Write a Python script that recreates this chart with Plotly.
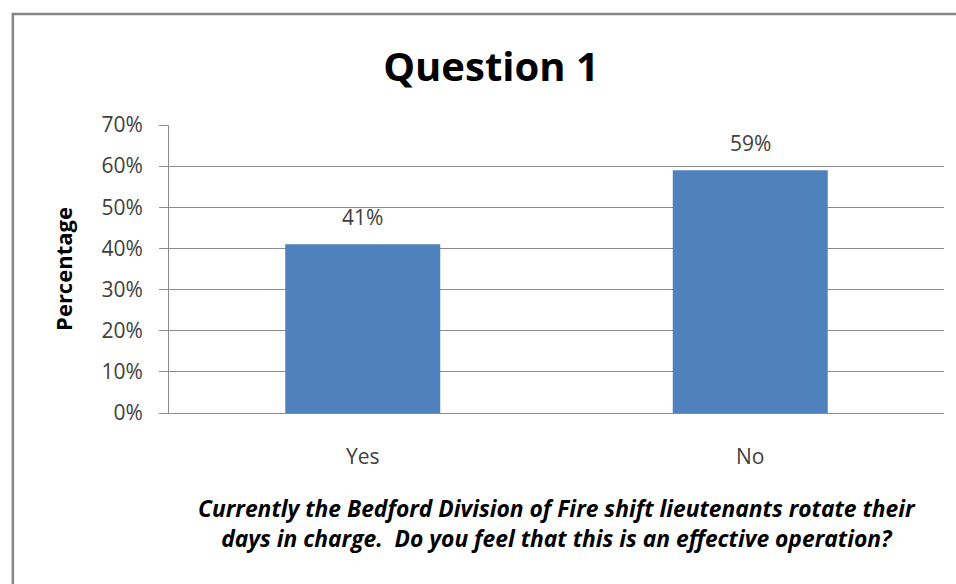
import plotly.graph_objects as go

# Survey results
answers = ["Yes", "No"]
shares = [41, 59]  # percent of respondents
share_labels = ["41%", "59%"]
y_ticks = [0, 10, 20, 30, 40, 50, 60, 70]
y_tick_text = ["0%", "10%", "20%", "30%", "40%", "50%", "60%", "70%"]

chart_title = "Question 1"
y_title = "Percentage"
question_text = ("Currently the Bedford Division of Fire shift lieutenants rotate their<br>"
                 "days in charge.  Do you feel that this is an effective operation?")

FONT = "Open Sans"
GRID = "#8c8c8c"
TEXT = "#404040"

fig = go.Figure(
    go.Bar(
        x=answers,
        y=shares,
        marker=dict(color="#4F81BD", line=dict(width=0)),
        width=0.4,
        hoverinfo="skip",
    )
)

# Value labels above each bar
for a, v, lbl in zip(answers, shares, share_labels):
    fig.add_annotation(
        x=a, y=v, text=lbl, showarrow=False,
        yanchor="bottom", yshift=11,
        font=dict(family=FONT, size=21, color=TEXT),
    )

# Question text beneath the categories
fig.add_annotation(
    xref="paper", yref="paper", x=0.5, y=-0.272,
    text=f"<b><i>{question_text}</i></b>",
    showarrow=False, yanchor="top", align="center",
    font=dict(family=FONT, size=22.8, color="#000000"),
)

# Chart frame
fig.add_shape(
    type="rect", xref="paper", yref="paper",
    x0=-0.2015, y0=-1.0, x1=2.0, y1=1.3855,
    line=dict(color="#868686", width=2.5),
    fillcolor="rgba(0,0,0,0)", layer="below",
)

fig.update_layout(
    width=956, height=584,
    margin=dict(l=169, r=12, t=125, b=171),
    paper_bgcolor="white", plot_bgcolor="white",
    showlegend=False,
    title=dict(
        text=f"<b>{chart_title}</b>",
        x=491 / 956, xanchor="center", xref="container",
        y=1 - 67 / 584, yanchor="middle", yref="container",
        font=dict(family=FONT, size=40, color="#000000"),
    ),
    font=dict(family=FONT, color=TEXT),
)

fig.update_xaxes(
    showline=True, linecolor=GRID, linewidth=1,
    ticks="", showgrid=False,
    tickfont=dict(family=FONT, size=21, color=TEXT),
    ticklabelstandoff=25,
)

fig.update_yaxes(
    range=[0, 70],
    tickvals=y_ticks, ticktext=y_tick_text,
    showgrid=True, gridcolor=GRID, gridwidth=1,
    showline=True, linecolor=GRID, linewidth=1,
    ticks="outside", ticklen=9, tickcolor=GRID,
    tickfont=dict(family=FONT, size=21, color=TEXT),
    ticklabelstandoff=12,
    zeroline=False,
    title=dict(text=f"<b>{y_title}</b>", standoff=22,
               font=dict(family=FONT, size=22, color="#000000")),
)

fig.write_html("out.html")
